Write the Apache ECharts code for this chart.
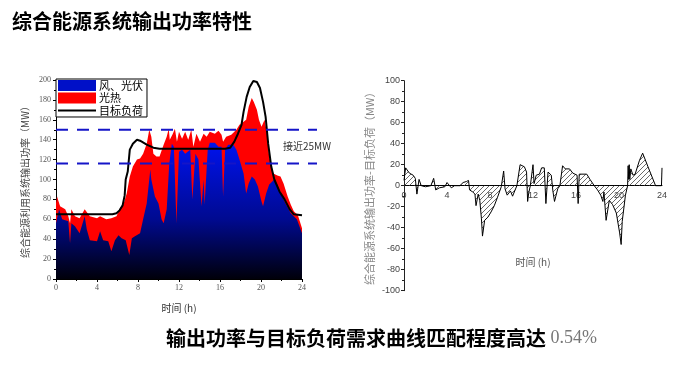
<!DOCTYPE html>
<html><head><meta charset="utf-8">
<script src="https://cdn.jsdelivr.net/npm/echarts@6/dist/echarts.min.js"></script>
<style>html,body{margin:0;padding:0;background:#fff}#c{width:677px;height:366px}</style>
</head><body><div id="c"></div>
<script>
// ---- data (hours, MW) ----
const windPv = [[0,56],[0.3,70],[0.6,60],[1.2,58],[1.37,36],[1.5,56],[1.85,53],[2.3,46],[2.8,63],[3.0,50],[3.3,39],[4.0,38],[4.3,48],[4.6,39],[5.1,38],[5.4,28],[5.75,39],[6.1,44],[6.4,41],[6.8,39],[7.15,24],[7.4,41],[7.7,43],[8.2,46],[8.5,60],[8.85,76],[9.2,110],[9.3,100],[9.65,83],[10,76],[10.3,60],[10.5,56],[10.8,70],[11.05,116],[11.3,136],[11.5,133],[11.75,56],[12,128],[12.3,130],[12.6,126],[13.1,130],[13.3,80],[13.6,126],[13.9,120],[14.2,73],[14.4,100],[14.5,75],[14.8,130],[15,137],[15.5,137],[15.85,133],[16.15,133],[16.3,83],[16.5,130],[16.8,135],[17.3,135],[17.6,130],[17.9,120],[18.3,106],[18.55,86],[18.8,96],[19.1,103],[19.4,100],[19.7,93],[20.05,78],[20.2,73],[20.5,86],[20.8,95],[21.3,100],[21.6,95],[21.9,86],[22.4,76],[22.9,66],[23.5,60],[24,46]];
const totalOutput = [[0,76],[0.1,83],[0.4,73],[0.9,70],[1.2,63],[1.37,56],[1.5,70],[1.85,63],[2.3,61],[2.8,70],[3.3,63],[4,61],[4.3,63],[4.9,60],[5.4,61],[5.9,63],[6.2,70],[6.6,76],[6.9,86],[7.2,103],[7.5,113],[7.9,120],[8.2,121],[8.5,126],[8.85,136],[9.1,150],[9.3,143],[9.5,126],[9.8,123],[10.1,123],[10.5,135],[10.8,143],[11,151],[11.1,140],[11.4,146],[11.6,151],[11.8,138],[12,148],[12.3,141],[12.6,148],[12.9,140],[13.2,150],[13.4,133],[13.7,146],[14.05,138],[14.4,146],[14.7,143],[15,148],[15.5,146],[15.85,149],[16.15,145],[16.3,138],[16.6,143],[17.1,145],[17.6,150],[17.9,155],[18.3,158],[18.55,160],[18.8,173],[19.1,182],[19.3,178],[19.6,170],[19.8,160],[20.05,153],[20.35,160],[20.6,146],[20.8,123],[21.2,106],[21.6,104],[21.9,103],[22.2,96],[22.6,83],[22.9,75],[23.2,68],[23.6,64],[24,51]];
const targetLoad = [[0,65],[5.5,65],[5.9,66],[6.2,69],[6.5,74],[6.7,84],[6.8,100],[7.0,108],[7.2,130],[7.5,136],[7.9,140],[8.2,139],[8.85,135],[9.5,132],[10.1,131],[16.5,131],[17,132],[17.4,138],[17.75,146],[18.1,155],[18.3,168],[18.6,183],[18.9,193],[19.25,199],[19.6,198],[19.9,192],[20.2,178],[20.45,163],[20.7,136],[21,113],[21.3,100],[21.8,88],[22.3,80],[22.8,70],[23.2,65],[24,64]];
const upperBand = [[0,150],[25.5,150]];
const lowerBand = [[0,116],[25.5,116]];
const deviation = [[0,5],[0.15,17],[0.5,12],[0.85,10],[1.05,7],[1.2,-8],[1.4,6],[1.6,0],[2.0,-1],[2.5,0],[2.76,7],[2.95,-4],[3.3,-2],[3.8,-1],[4.0,3],[4.4,-2],[4.7,0],[5.2,0],[5.5,3],[5.8,4],[6.0,5],[6.1,-4],[6.4,-6],[6.6,-8],[6.7,-19],[6.9,-8],[7.05,-14],[7.2,-31],[7.3,-48],[7.5,-33],[7.8,-30],[8.1,-25],[8.4,-19],[8.7,-11],[9.05,-1],[9.27,14],[9.4,-3],[9.6,-9],[9.9,-5],[10.1,-10],[10.5,0],[10.8,20],[11.2,18],[11.4,13],[11.5,-15],[11.6,-7],[11.75,0],[12.0,20],[12.1,2],[12.3,10],[12.6,11],[12.8,17],[13.05,17],[13.2,-17],[13.4,13],[13.7,10],[13.85,-5],[14.0,-15],[14.3,-3],[14.5,0],[14.75,19],[15.0,16],[15.4,16],[15.7,12],[16.1,10],[16.2,-17],[16.3,11],[17.0,11],[17.3,6],[17.7,0],[18.0,-4],[18.3,-9],[18.5,-15],[18.6,-6],[18.8,-33],[19.1,-14],[19.4,-18],[19.75,-26],[20.06,-45],[20.2,-56],[20.3,-34],[20.6,-9],[20.8,0],[20.85,19],[20.9,6],[20.95,20],[21.0,6],[21.1,16],[21.3,10],[21.5,11],[21.9,24],[22.2,31],[22.7,18],[23.4,0],[23.95,0],[24,17]];

// hatch pattern
const pc = document.createElement('canvas'); pc.width = 5; pc.height = 5;
const g = pc.getContext('2d'); g.strokeStyle = '#444'; g.lineWidth = 0.8;
g.beginPath(); g.moveTo(0,5); g.lineTo(5,0); g.moveTo(-1,1); g.lineTo(1,-1); g.moveTo(4,6); g.lineTo(6,4); g.stroke();

const serif = 'Liberation Serif';
const cjk = 'Noto Sans CJK SC';
const chart = echarts.init(document.getElementById('c'), null, {renderer:'canvas'});
chart.setOption({
  animation: false,
  backgroundColor: '#fff',
  grid: [
    {left:56, right:375, top:80, bottom:87, outerBoundsMode:'none', containLabel:false},
    {left:56, right:360, top:80, bottom:87, outerBoundsMode:'none', containLabel:false},
    {left:404, right:15, top:80.7, bottom:75.3, outerBoundsMode:'none', containLabel:false}
  ],
  xAxis: [
    {gridIndex:0, type:'value', min:0, max:24, interval:4,
     name:'时间 (h)', nameLocation:'middle', nameGap:24, nameMoveOverlap:false,
     nameTextStyle:{fontFamily:cjk, fontSize:10, color:'#333'},
     axisLine:{lineStyle:{color:'#000', width:1}}, axisTick:{length:3, lineStyle:{color:'#000'}},
     minorTick:{show:true, splitNumber:2, length:2, lineStyle:{color:'#000'}},
     splitLine:{show:false}, axisLabel:{fontFamily:serif, fontSize:8, color:'#555', margin:5}},
    {gridIndex:1, type:'value', min:0, max:25.5, show:false},
    {gridIndex:2, type:'value', min:0, max:24, interval:4, position:'bottom', offset:-105,
     name:'时间 (h)', nameLocation:'middle', nameGap:72, nameMoveOverlap:false,
     nameTextStyle:{fontFamily:cjk, fontSize:10, color:'#555'},
     axisLine:{onZero:false, lineStyle:{color:'#000', width:1}}, axisTick:{show:false},
     splitLine:{show:false}, axisLabel:{fontFamily:'Liberation Sans', fontSize:9, color:'#444', margin:5}}
  ],
  yAxis: [
    {gridIndex:0, type:'value', min:0, max:200, interval:20,
     name:'综合能源利用系统输出功率（MW）', nameLocation:'middle', nameGap:26, nameMoveOverlap:false,
     nameTextStyle:{fontFamily:cjk, fontSize:10, color:'#444'},
     axisLine:{show:true, lineStyle:{color:'#000'}}, axisTick:{show:true, length:3, lineStyle:{color:'#000'}},
     minorTick:{show:true, splitNumber:2, length:2, lineStyle:{color:'#000'}},
     splitLine:{show:false}, axisLabel:{fontFamily:serif, fontSize:8, color:'#555', margin:5}},
    {gridIndex:1, type:'value', min:0, max:200, show:false},
    {gridIndex:2, type:'value', min:-100, max:100, interval:20,
     name:'综合能源系统输出功率-目标负荷（MW）', nameLocation:'middle', nameGap:29, nameMoveOverlap:false,
     nameTextStyle:{fontFamily:cjk, fontSize:11, color:'#888'},
     axisLine:{show:true, onZero:false, lineStyle:{color:'#222'}}, axisTick:{show:true, length:3, lineStyle:{color:'#222'}},
     minorTick:{show:true, splitNumber:2, length:2, lineStyle:{color:'#222'}},
     splitLine:{show:false}, axisLabel:{fontFamily:'Liberation Sans', fontSize:9, color:'#444', margin:4}}
  ],
  legend: {
    left:56, top:79, orient:'vertical', itemWidth:38, itemHeight:11, itemGap:1.5,
    padding:[1,4,1,1], borderColor:'#000', borderWidth:1, backgroundColor:'#fff', borderRadius:0,
    textStyle:{fontFamily:cjk, fontSize:11, color:'#000', padding:[0,0,0,-2]},
    data:[{name:'风、光伏', icon:'rect'}, {name:'光热', icon:'rect'},
          {name:'目标负荷', itemStyle:{opacity:0, borderWidth:0}}]
  },
  graphic: [
    {type:'text', left:12, top:11, style:{text:'综合能源系统输出功率特性', font:'bold 20px "Noto Sans CJK SC"', fill:'#000'}},
    {type:'text', left:283, top:141, style:{text:'接近25MW', font:'10px "Noto Sans CJK SC"', fill:'#333'}},
    {type:'text', left:166, top:328, style:{
      text:'{a|输出功率与目标负荷需求曲线匹配程度高达}{b| 0.54%}',
      rich:{a:{font:'bold 20px "Noto Sans CJK SC"', fill:'#000'}, b:{font:'18px "Liberation Serif"', fill:'#777'}}}}
  ],
  series: [
    {name:'光热', type:'line', xAxisIndex:0, yAxisIndex:0, data:totalOutput, symbol:'none',
     lineStyle:{width:0}, itemStyle:{color:'#ff0000'}, areaStyle:{color:'#ff0000', opacity:1}, z:2},
    {name:'风、光伏', type:'line', xAxisIndex:0, yAxisIndex:0, data:windPv, symbol:'none',
     lineStyle:{width:0}, itemStyle:{color:'#0010c8'},
     areaStyle:{opacity:1, color:{type:'linear', x:0, y:80, x2:0, y2:279, global:true,
       colorStops:[{offset:0,color:'#1a2cff'},{offset:0.35,color:'#0012e6'},{offset:0.7,color:'#000a90'},{offset:1,color:'#00000a'}]}}, z:3},
    {name:'目标负荷', type:'line', xAxisIndex:0, yAxisIndex:0, data:targetLoad, symbol:'none',
     lineStyle:{width:2, color:'#000'}, itemStyle:{color:'#000'}, z:4},
    {name:'上限', type:'line', xAxisIndex:1, yAxisIndex:1, data:upperBand, symbol:'none',
     lineStyle:{width:2, color:'#1515c8', type:[12,9]}, z:5},
    {name:'下限', type:'line', xAxisIndex:1, yAxisIndex:1, data:lowerBand, symbol:'none',
     lineStyle:{width:2, color:'#1515c8', type:[12,9]}, z:5},
    {name:'偏差', type:'line', xAxisIndex:2, yAxisIndex:2, data:deviation, symbol:'none',
     lineStyle:{width:1, color:'#000'}, itemStyle:{color:'#000'},
     areaStyle:{origin:0, opacity:1, color:{image:pc, repeat:'repeat'}}, z:3}
  ]
});
</script></body></html>
